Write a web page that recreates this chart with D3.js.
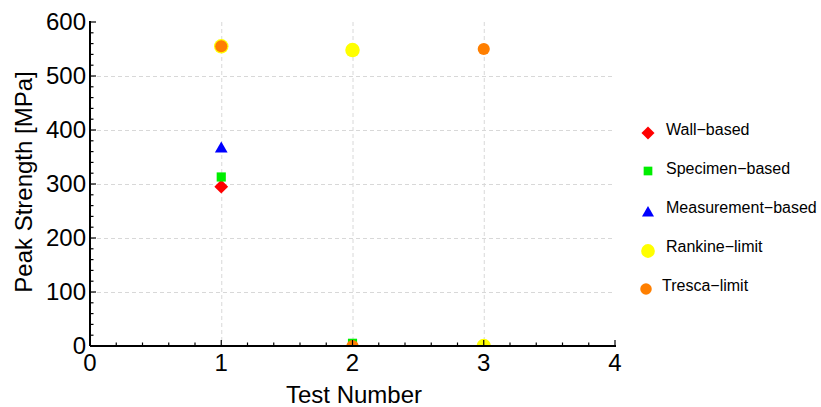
<!DOCTYPE html>
<html>
<head>
<script src="https://cdnjs.cloudflare.com/ajax/libs/d3/7.8.5/d3.min.js"></script>
<style>
  body { margin: 0; background: #fff; }
  text { font-family: "Liberation Sans", Arial, sans-serif; }
</style>
</head>
<body>
<svg id="chart" width="821" height="407"></svg>
<script>
// series: test number -> peak strength (MPa)
var wallBased        = [[1, 295], [2, 0]];
var specimenBased    = [[1, 313], [2, 5]];
var measurementBased = [[1, 365]];
var rankineLimit     = [[1, 555], [2, 548], [3, 0]];
var trescaLimit      = [[1, 555], [2, 0], [3, 550]];

var seriesNames = ["Wall-based", "Specimen-based", "Measurement-based", "Rankine-limit", "Tresca-limit"];
var xTicks = [0, 1, 2, 3, 4];
var yTicks = [0, 100, 200, 300, 400, 500, 600];

var svg = d3.select("#chart");
var x = d3.scaleLinear().domain([0, 4]).range([90, 615]);
var y = d3.scaleLinear().domain([0, 600]).range([346, 22]);

var series = [
  {name: seriesNames[0], data: wallBased, color: "#ff0000", shape: d3.symbolSquare, size: 95, rot: true, lx: 648, ly: 133},
  {name: seriesNames[1], data: specimenBased, color: "#00ee00", shape: d3.symbolSquare, size: 84, lx: 648, ly: 171},
  {name: seriesNames[2], data: measurementBased, color: "#0000ff", shape: d3.symbolTriangle, size: 70, lx: 648, ly: 213},
  {name: seriesNames[3], data: rankineLimit, color: "#ffff00", shape: d3.symbolCircle, size: 165, lx: 648, ly: 251},
  {name: seriesNames[4], data: trescaLimit, color: "#ff7f00", shape: d3.symbolCircle, size: 115, lx: 646, ly: 289}
];

// grid
var grid = svg.append("g").attr("stroke", "#d8d8d8").attr("stroke-dasharray", "4,3").attr("stroke-width", 1);
grid.selectAll("line.h").data(yTicks.filter(function(d){ return d > 0 && d < 600; }))
  .enter().append("line")
  .attr("x1", x(0)).attr("x2", x(4))
  .attr("y1", function(d){ return y(d) + 0.5; }).attr("y2", function(d){ return y(d) + 0.5; });
grid.selectAll("line.v").data([1, 2, 3])
  .enter().append("line")
  .attr("y1", y(600)).attr("y2", y(0))
  .attr("x1", function(d){ return x(d) + 0.5; }).attr("x2", function(d){ return x(d) + 0.5; });

// points, clipped to plot area
svg.append("clipPath").attr("id", "plotclip").append("rect")
  .attr("x", x(0)).attr("y", 0).attr("width", x(4) - x(0) + 10).attr("height", y(0));

var pts = svg.append("g").attr("clip-path", "url(#plotclip)");
series.forEach(function(s) {
  pts.selectAll(null).data(s.data).enter().append("path")
    .attr("d", d3.symbol().type(s.shape).size(s.size))
    .attr("transform", function(d){
      return "translate(" + x(d[0]) + "," + y(d[1]) + ")" + (s.rot ? " rotate(45)" : "");
    })
    .attr("fill", s.color);
});

// axes
var xAxis = svg.append("g").attr("transform", "translate(0," + y(0) + ")");
xAxis.append("line").attr("x1", x(0)).attr("x2", x(4) + 1).attr("stroke", "#000").attr("stroke-width", 2);
xAxis.selectAll("line.minor").data(d3.range(0, 4.01, 0.2))
  .enter().append("line")
  .attr("x1", function(d){ return x(d); }).attr("x2", function(d){ return x(d); })
  .attr("y1", 0).attr("y2", function(d){ return Math.abs(d - Math.round(d)) < 1e-6 ? -6 : -3.5; })
  .attr("stroke", "#000").attr("stroke-width", 1.2);
xAxis.selectAll("text").data(xTicks).enter().append("text")
  .attr("x", function(d){ return x(d); }).attr("y", 25)
  .attr("text-anchor", "middle").attr("font-size", 24).text(function(d){ return d; });

var yAxis = svg.append("g").attr("transform", "translate(" + x(0) + ",0)");
yAxis.append("line").attr("y1", y(600) - 1).attr("y2", y(0)).attr("stroke", "#000").attr("stroke-width", 2);
yAxis.selectAll("line.minor").data(d3.range(0, 601, 20))
  .enter().append("line")
  .attr("y1", function(d){ return y(d); }).attr("y2", function(d){ return y(d); })
  .attr("x1", 0).attr("x2", function(d){ return d % 100 === 0 ? 6 : 3.5; })
  .attr("stroke", "#000").attr("stroke-width", 1.2);
yAxis.selectAll("text").data(yTicks).enter().append("text")
  .attr("x", -4).attr("y", function(d){ return y(d) + 8; })
  .attr("text-anchor", "end").attr("font-size", 24).text(function(d){ return d; });

// axis titles
svg.append("text").attr("x", 354).attr("y", 403).attr("text-anchor", "middle")
  .attr("font-size", 24).text("Test Number");
svg.append("text").attr("transform", "translate(32,182) rotate(-90)")
  .attr("text-anchor", "middle").attr("font-size", 24).text("Peak Strength [MPa]");

// legend
series.forEach(function(s, i) {
  var base = 135 + i * 39;
  svg.append("path")
    .attr("d", d3.symbol().type(s.shape).size(s.size * 0.9))
    .attr("transform", "translate(" + s.lx + "," + s.ly + ")" + (s.rot ? " rotate(45)" : ""))
    .attr("fill", s.color);
  svg.append("text").attr("x", i === 4 ? 662 : 666).attr("y", base)
    .attr("font-size", 16).text(s.name.replace("-", "\u2212"));
});
</script>
</body>
</html>
